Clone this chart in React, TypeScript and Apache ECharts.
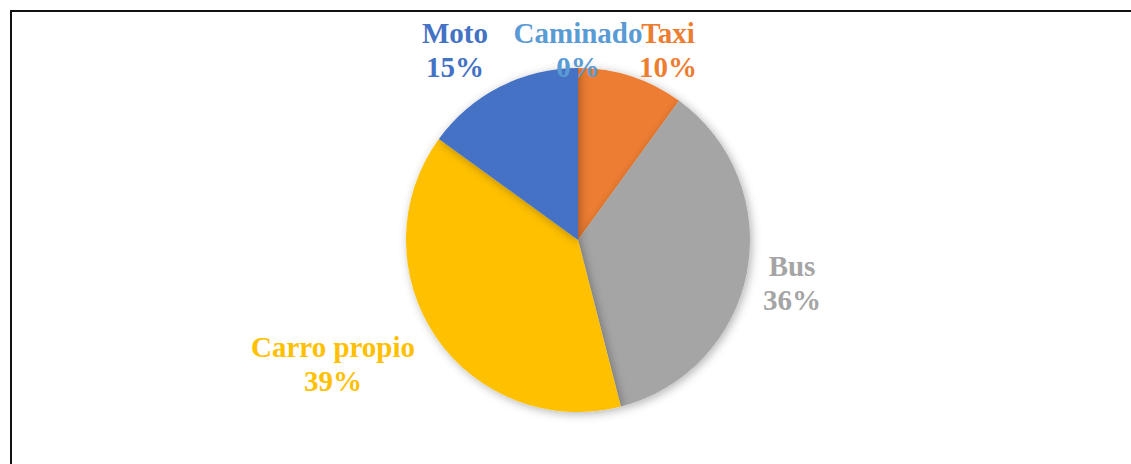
import React, { useEffect, useRef } from "react";
import * as echarts from "echarts";

const categories = ["Taxi", "Bus", "Carro propio", "Moto", "Caminado"];
const values = [10, 36, 39, 15, 0];
const colors = ["#ED7D31", "#A5A5A5", "#FFC000", "#4472C4", "#5B9BD5"];
const labelPositions: [number, number][] = [
  [668, 50],
  [792, 283],
  [333, 364],
  [455, 50],
  [578, 50],
];

export default function App() {
  const ref = useRef<HTMLDivElement>(null);
  useEffect(() => {
    document.body.style.margin = "0";
    const chart = echarts.init(ref.current!, undefined, { renderer: "svg" });
    chart.setOption({
      animation: false,
      backgroundColor: "#fff",
      graphic: [
        {
          type: "rect",
          shape: { x: 11, y: 11, width: 1200, height: 600 },
          style: { fill: "none", stroke: "#111", lineWidth: 2 },
          z: 0,
        },
      ],
      series: [
        {
          type: "pie",
          center: [578, 240],
          radius: 172,
          startAngle: 90,
          clockwise: true,
          minAngle: 0,
          avoidLabelOverlap: false,
          stillShowZeroSum: true,
          itemStyle: {
            borderWidth: 0,
            shadowBlur: 10,
            shadowOffsetX: 2,
            shadowOffsetY: 2,
            shadowColor: "rgba(0,0,0,0.3)",
          },
          label: {
            show: true,
            position: "outside",
            formatter: (p: any) => `${p.name}\n${Math.round(p.percent)}%`,
            fontFamily: "Liberation Serif, Times New Roman, serif",
            fontWeight: "bold",
            fontSize: 29,
            lineHeight: 34,
            align: "center",
          },
          labelLine: { show: false },
          labelLayout: (params: any) => {
            const pos = labelPositions[params.dataIndex];
            return { x: pos[0], y: pos[1], align: "center", verticalAlign: "middle" };
          },
          data: categories.map((c, i) => ({
            name: c,
            value: values[i],
            itemStyle: { color: colors[i] },
            label: { color: colors[i] },
          })),
        },
      ],
    });
    return () => chart.dispose();
  }, []);
  return (
    <div
      ref={ref}
      style={{ position: "fixed", left: 0, top: 0, width: 1131, height: 464 }}
    />
  );
}
